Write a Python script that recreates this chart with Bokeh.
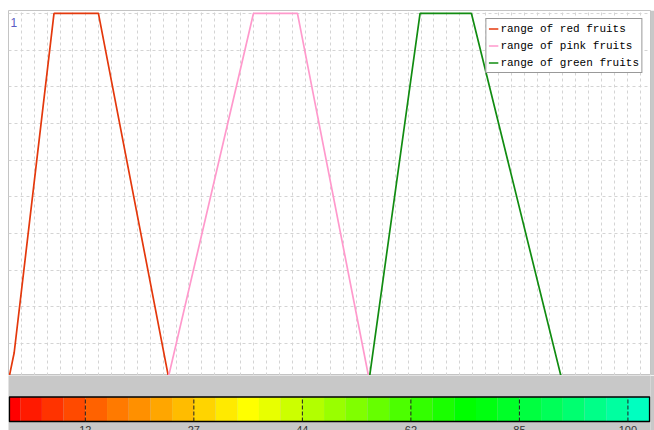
from bokeh.plotting import figure
from bokeh.models import Range1d, Legend, LegendItem, SingleIntervalTicker, Spacer, Grid
from bokeh.layouts import column, row
from bokeh.embed import file_html
from bokeh.resources import INLINE
from bokeh.core.properties import value

# ---- data ----
red_x = [0, 0.88, 7.06, 13.95, 24.92]
red_y = [0, 0.075, 1, 1, 0]
pink_x = [24.69, 38.0, 44.83, 55.98]
pink_y = [0, 1, 1, 0]
green_x = [55.94, 63.85, 71.82, 85.87]
green_y = [0, 1, 1, 0]
series_names = ["range of red fruits", "range of pink fruits", "range of green fruits"]

y_tick_values = [1]
y_tick_labels = ["1"]

bar_colors = ["#ff0000", "#ff1a00", "#ff3300", "#ff4a00", "#ff6200", "#ff7a00",
              "#ff9000", "#ffa600", "#ffbc00", "#ffd400", "#ffea00", "#ffff00",
              "#e8ff00", "#ccff00", "#b2ff00", "#99ff00", "#80ff00", "#66ff00",
              "#4cff00", "#33ff00", "#1aff00", "#00ff00", "#00ff10", "#00ff28",
              "#00ff40", "#00ff58", "#00ff70", "#00ff88", "#00ffa0", "#00ffc0"]
bar_tick_after_segment = [3, 8, 13, 18, 23, 28]
bar_tick_labels = ["12", "27", "44", "62", "85", "100"]

GREY = "#c8c8c8"

# ---- main chart ----
p1 = figure(width=646, height=365, x_range=Range1d(0, 99.6), y_range=Range1d(0.013, 1.008),
            output_backend="svg", toolbar_location=None,
            x_axis_location=None, y_axis_location=None,
            min_border_left=0, min_border_right=4, min_border_top=0, min_border_bottom=0,
            background_fill_color="white", border_fill_color=GREY,
            outline_line_color="#c4c4c4")
p1.center = []
p1.add_layout(Grid(dimension=0, ticker=SingleIntervalTicker(interval=2),
                   grid_line_color="#d4d4d4", grid_line_dash="3 3", grid_line_width=1), "center")
p1.add_layout(Grid(dimension=1, ticker=SingleIntervalTicker(interval=0.1),
                   grid_line_color="#d4d4d4", grid_line_dash="3 3", grid_line_width=1), "center")

r_red = p1.line(red_x, red_y, line_color="#e4380c", line_width=1.7)
r_pink = p1.line(pink_x, pink_y, line_color="#ff99cc", line_width=1.7)
r_green = p1.line(green_x, green_y, line_color="#118c11", line_width=1.7)

p1.text(x=[0], y=y_tick_values, text=y_tick_labels, text_font=value("Liberation Sans"),
        text_font_size="12px", text_color="#5b5bc4", text_align="left",
        text_baseline="alphabetic", x_offset=2, y_offset=9)

legend = Legend(items=[LegendItem(label=series_names[0], renderers=[r_red]),
                       LegendItem(label=series_names[1], renderers=[r_pink]),
                       LegendItem(label=series_names[2], renderers=[r_green])],
                location="top_right", margin=8, padding=2, spacing=2,
                glyph_width=10, glyph_height=15, label_height=15, label_standoff=2,
                label_text_font="Liberation Mono", label_text_font_size="11px",
                label_text_color="black",
                border_line_color="#333333", border_line_width=1,
                background_fill_color="white", background_fill_alpha=1)
p1.add_layout(legend)

# ---- colour bar ----
p2 = figure(width=646, height=55, x_range=Range1d(-0.08, 59.08), y_range=Range1d(0, 55),
            output_backend="svg", toolbar_location=None,
            x_axis_location=None, y_axis_location=None,
            min_border_left=0, min_border_right=2, min_border_top=0, min_border_bottom=0,
            background_fill_color=GREY, border_fill_color=GREY, outline_line_color=None)
p2.center = []

n = len(bar_colors)
lefts = [0] + [2 * k - 1 for k in range(1, n)]
rights = [1] + [2 * k + 1 for k in range(1, n)]
p2.quad(left=lefts, right=rights, bottom=9, top=33.5, fill_color=bar_colors, line_color=None)
p2.quad(left=[0], right=[rights[-1]], bottom=9, top=33.5, fill_color=None,
        line_color="black", line_width=1.5)
tick_x = [2 * s + 1 for s in bar_tick_after_segment]
p2.segment(x0=tick_x, y0=9, x1=tick_x, y1=33.5, line_color="#1e1e1e",
           line_dash="4 2", line_width=1)
p2.text(x=tick_x, y=5, text=bar_tick_labels, text_font=value("Liberation Sans"),
        text_font_size="11px", text_color="#333333", text_align="center",
        text_baseline="top")

layout = row(Spacer(width=8, height=430),
             column(Spacer(width=646, height=10), p1, p2))

open("out.html", "w").write(file_html(layout, INLINE))
